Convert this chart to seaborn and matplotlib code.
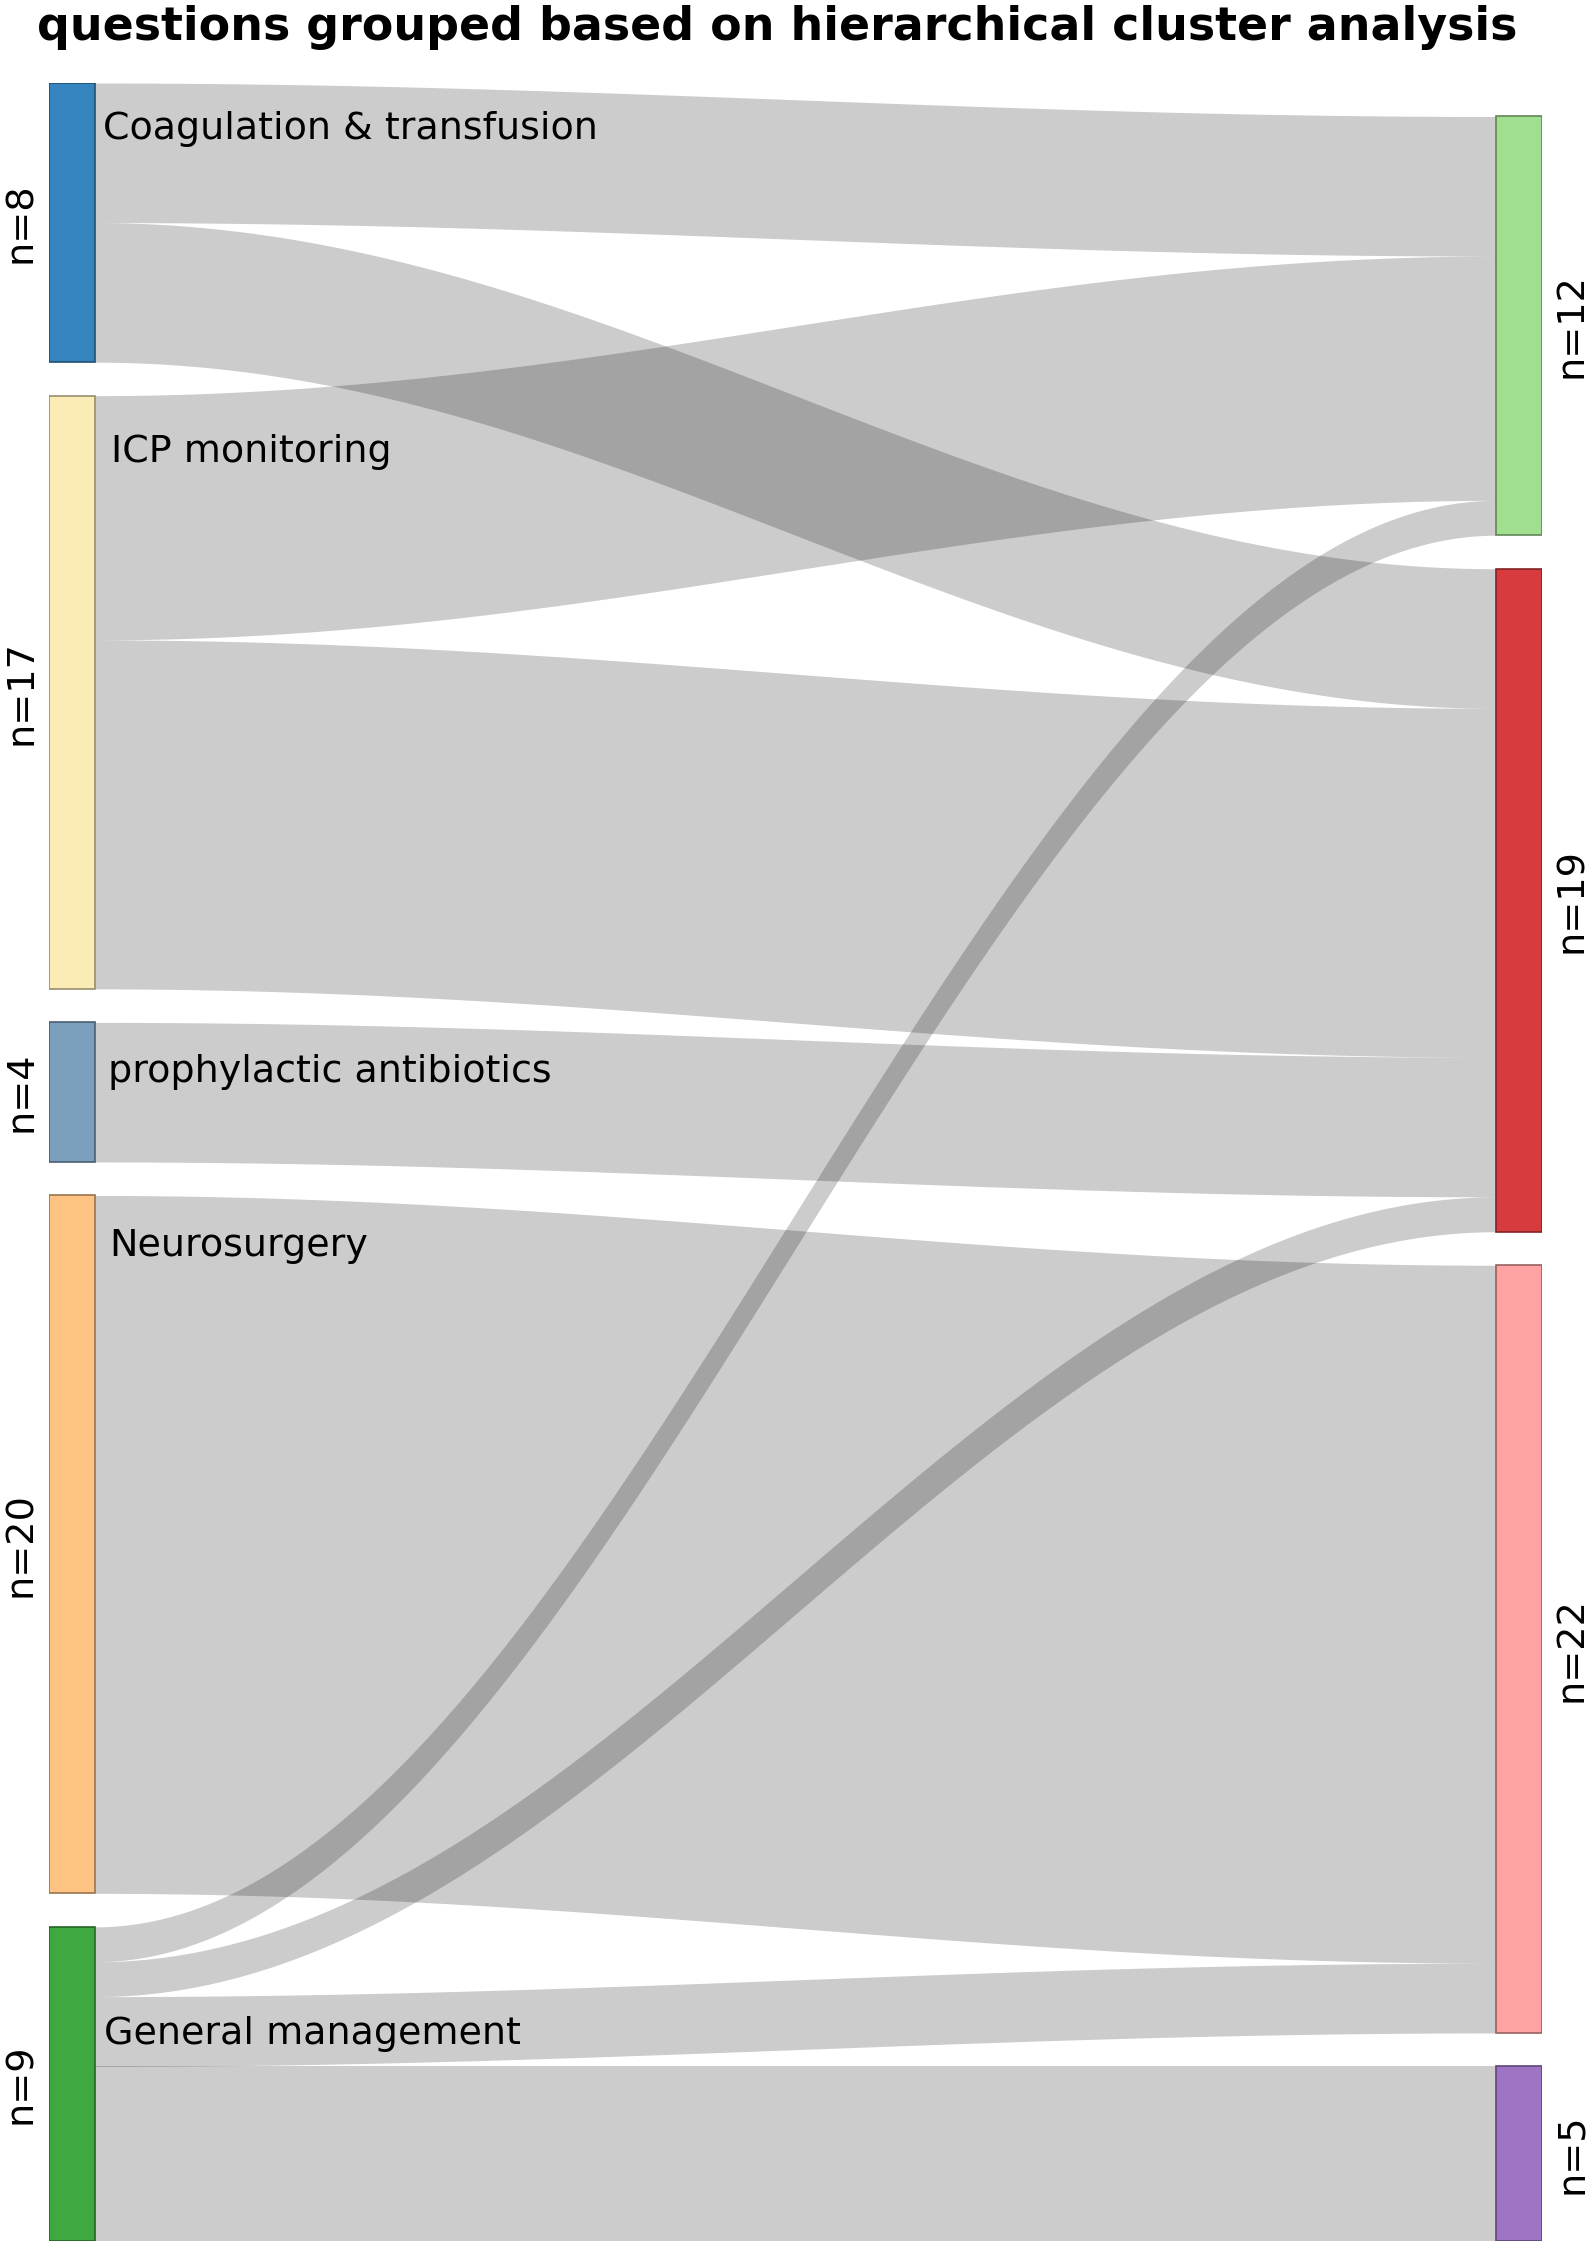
import numpy as np
import matplotlib
matplotlib.use("Agg")
import matplotlib.pyplot as plt
import seaborn as sns
from matplotlib.patches import Rectangle
from matplotlib.colors import to_rgb

# left groups (question topics)
left_names = ["Coagulation & transfusion", "ICP monitoring", "prophylactic antibiotics",
              "Neurosurgery", "General management"]
left_colors = ["#3584bd", "#fbecb5", "#7b9fbd", "#fec283", "#40a840"]

# right groups (clusters)
right_names = ["cluster 1", "cluster 2", "cluster 3", "cluster 4"]
right_colors = ["#a1df90", "#d83b3e", "#ffa2a2", "#9f74c4"]

# flows left -> right
flow_src = [0, 0, 1, 1, 2, 3, 4, 4, 4, 4]
flow_tgt = [0, 1, 0, 1, 1, 2, 0, 1, 2, 3]
flow_n = [4, 4, 7, 10, 4, 20, 1, 1, 2, 5]

left_n = [sum(n for s, n in zip(flow_src, flow_n) if s == i) for i in range(len(left_names))]
right_n = [sum(n for t, n in zip(flow_tgt, flow_n) if t == j) for j in range(len(right_names))]

sns.set_theme(style="white")
plt.rcParams['font.family'] = ['DejaVu Sans']
plt.rcParams['text.color'] = 'black'

gap = 0.96
nw = 0.0308

fig = plt.figure(figsize=(15.94, 22.49), dpi=100)
ax = fig.add_axes([0.0306, 0.0036, 0.9368, 0.9595])
left_total = sum(left_n) + gap * (len(left_n) - 1)
right_total = sum(right_n) + gap * (len(right_n) - 1)
ax.set_xlim(0, 1)
ax.set_ylim(left_total, 0)
ax.axis("off")

# node positions (left from top, right bottom-aligned)
left_top = []
y = 0
for n in left_n:
    left_top.append(y)
    y += n + gap
right_top = []
y = left_total - right_total
for n in right_n:
    right_top.append(y)
    y += n + gap


def darker(c, f=0.6):
    r, g, b = to_rgb(c)
    return (r * f, g * f, b * f)


# flows
left_cursor = list(left_top)
right_cursor = list(right_top)
spans = {}
for k in sorted(range(len(flow_n)), key=lambda k: (flow_src[k], flow_tgt[k])):
    s = flow_src[k]
    spans[k] = [left_cursor[s]]
    left_cursor[s] += flow_n[k]
for k in sorted(range(len(flow_n)), key=lambda k: (flow_tgt[k], flow_src[k])):
    t = flow_tgt[k]
    spans[k].append(right_cursor[t])
    right_cursor[t] += flow_n[k]

xs = np.linspace(nw, 1 - nw, 300)
tt = (xs - nw) / (1 - 2 * nw)
sm = (1 - np.cos(np.pi * tt)) / 2
for k in range(len(flow_n)):
    y0, y1 = spans[k]
    top = y0 + (y1 - y0) * sm
    ax.fill_between(xs, top, top + flow_n[k], color="black", alpha=0.2, linewidth=0)

# nodes
for i, n in enumerate(left_n):
    ax.add_patch(Rectangle((0, left_top[i]), nw, n, facecolor=left_colors[i],
                           edgecolor=darker(left_colors[i]), linewidth=1.2, zorder=3))
    ax.text(-0.0186, left_top[i] + n / 2, f"n={n}", rotation=90, ha="center",
            va="center", fontsize=27.5)
for j, n in enumerate(right_n):
    ax.add_patch(Rectangle((1 - nw, right_top[j]), nw, n, facecolor=right_colors[j],
                           edgecolor=darker(right_colors[j]), linewidth=1.2, zorder=3))
    ax.text(1.020, right_top[j] + n / 2, f"n={n}", rotation=90, ha="center",
            va="center", fontsize=27.5)

# topic labels
label_x = [0.036, 0.0418, 0.0399, 0.0408, 0.037]
label_dy = [1.33, 1.62, 1.42, 1.44, 3.07]
for i, name in enumerate(left_names):
    ax.text(label_x[i], left_top[i] + label_dy[i], name, ha="left", va="center",
            fontsize=27.4, zorder=4)

fig.text(0.4875, 0.9822, "questions grouped based on hierarchical cluster analysis",
         ha="center", va="baseline", fontsize=33, fontweight="bold")

fig.savefig("out.png", dpi=100)
